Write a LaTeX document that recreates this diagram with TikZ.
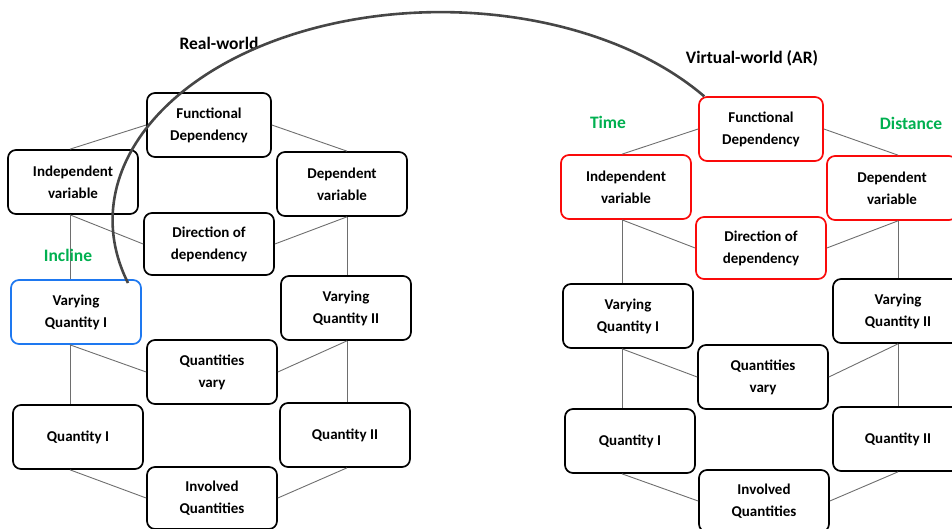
\documentclass[tikz,border=0pt]{standalone}
\usepackage{fontspec}
\setmainfont{Carlito}
\definecolor{lgreen}{RGB}{0,176,80}
\definecolor{bblue}{RGB}{30,120,240}
\definecolor{rred}{RGB}{250,10,10}
\definecolor{lgray}{RGB}{110,110,110}
\definecolor{arcgray}{RGB}{70,70,70}
\begin{document}
\begin{tikzpicture}[x=1pt,y=-1pt,
  box/.style={draw=black, line width=1.7pt, rounded corners=8pt, fill=white,
    minimum width=130pt, minimum height=64pt, align=center,
    font=\fontsize{15}{22}\selectfont\bfseries},
  redbox/.style={box, draw=rred},
  bluebox/.style={box, draw=bblue},
  link/.style={draw=lgray, line width=0.9pt},
  lbl/.style={font=\fontsize{17.5}{20}\selectfont\bfseries},
  glbl/.style={lbl, text=lgreen}]
\useasboundingbox (0,0) rectangle (952,529);
% left group
\node[box, minimum width=124pt] (lfd) at (209,125) {Functional\\Dependency};
\node[box] (lind) at (73,182) {Independent\\variable};
\node[box] (ldep) at (342,184) {Dependent\\variable};
\node[box, minimum height=62pt] (ldir) at (209,244) {Direction of\\dependency};
\node[bluebox] (lvq1) at (76,312) {Varying\\Quantity I};
\node[box] (lvq2) at (346,308) {Varying\\Quantity II};
\node[box] (lqv) at (212,372) {Quantities\\vary};
\node[box] (lq1) at (78,437) {Quantity I};
\node[box] (lq2) at (345,435) {Quantity II};
\node[box, minimum height=62pt] (liq) at (212,498) {Involved\\Quantities};
% right group
\node[redbox, minimum width=124pt] (rfd) at (761,129) {Functional\\Dependency};
\node[redbox] (rind) at (626,187) {Independent\\variable};
\node[redbox] (rdep) at (892,188) {Dependent\\variable};
\node[redbox, minimum height=62pt] (rdir) at (761,248) {Direction of\\dependency};
\node[box] (rvq1) at (628,316) {Varying\\Quantity I};
\node[box] (rvq2) at (898,311) {Varying\\Quantity II};
\node[box] (rqv) at (763,377) {Quantities\\vary};
\node[box] (rq1) at (630,441) {Quantity I};
\node[box] (rq2) at (898,439) {Quantity II};
\node[box, minimum height=62pt] (riq) at (764,501) {Involved\\Quantities};
% connectors
\begin{scope}[on background layer/.try]
\foreach \p/\a/\b in {l/-3pt/5pt, r/-4pt/6pt}{
  \draw[link] ([xshift=\a]\p ind.north) -- (\p fd.west);
  \draw[link] (\p fd.east) -- ([xshift=\b]\p dep.north);
  \draw[link] ([xshift=\a]\p ind.south) -- (\p dir.west);
  \draw[link] ([xshift=\b]\p dep.south) -- (\p dir.east);
  \draw[link] ([xshift=\a]\p ind.south) -- ([xshift=\a]\p ind.south |- \p vq1.north);
  \draw[link] ([xshift=\b]\p dep.south) -- ([xshift=\b]\p dep.south |- \p vq2.north);
  \draw[link] ([xshift=\a]\p ind.south |- \p vq1.south) -- (\p qv.west);
  \draw[link] ([xshift=\b]\p dep.south |- \p vq2.south) -- (\p qv.east);
  \draw[link] ([xshift=\a]\p ind.south |- \p vq1.south) -- ([xshift=\a]\p ind.south |- \p q1.north);
  \draw[link] ([xshift=\b]\p dep.south |- \p vq2.south) -- ([xshift=\b]\p dep.south |- \p q2.north);
  \draw[link] ([xshift=\a]\p ind.south |- \p q1.south) -- (\p iq.west);
  \draw[link] ([xshift=\b]\p dep.south |- \p q2.south) -- (\p iq.east);
}
\end{scope}
% labels
\node[lbl] (rw) at (219,43) {Real-world};
\node[lbl] (vw) at (752,58) {Virtual-world (AR)};
\node[glbl] (inc) at (68,255) {Incline};
\node[glbl] (tm) at (608,122) {Time};
\node[glbl] (dist) at (911,123) {Distance};
% arc
\coordinate (arcstart) at (128,283);
\draw[arcgray, line width=2.6pt] (arcstart) arc[start angle=197.6, end angle=36.5, x radius=328pt, y radius=208pt];
\end{tikzpicture}
\end{document}
